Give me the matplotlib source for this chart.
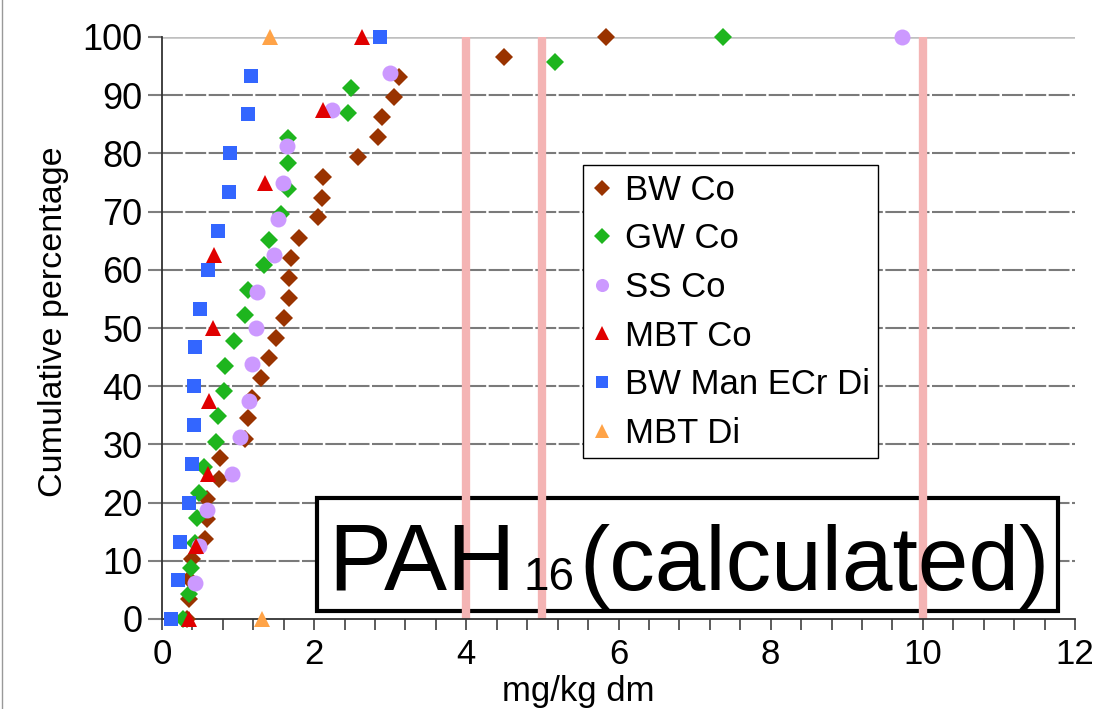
import matplotlib
matplotlib.use('Agg')
import matplotlib.pyplot as plt
from matplotlib.lines import Line2D
from matplotlib.patches import Rectangle
import numpy as np

plt.rcParams['font.family'] = ['Liberation Sans', 'DejaVu Sans']

# ---------------- data ----------------
bw_co_x = [0.33, 0.35, 0.35, 0.40, 0.57, 0.59, 0.59, 0.75, 0.76, 1.09, 1.13, 1.18, 1.30, 1.40, 1.50,
           1.61, 1.67, 1.67, 1.70, 1.80, 2.05, 2.10, 2.11, 2.58, 2.84, 2.89, 3.05, 3.11, 4.49, 5.83]
bw_co_y = [0.0, 3.4, 6.9, 10.3, 13.8, 17.2, 20.7, 24.1, 27.6, 31.0, 34.5, 37.9, 41.4, 44.8, 48.3,
           51.7, 55.2, 58.6, 62.1, 65.5, 69.0, 72.4, 75.9, 79.3, 82.8, 86.2, 89.7, 93.1, 96.6, 100.0]

gw_co_x = [0.27, 0.36, 0.38, 0.43, 0.46, 0.48, 0.55, 0.71, 0.73, 0.81, 0.83, 0.95,
           1.09, 1.13, 1.34, 1.40, 1.56, 1.65, 1.65, 1.66, 2.45, 2.48, 5.17, 7.38]
gw_co_y = [0.0, 4.3, 8.7, 13.0, 17.4, 21.7, 26.1, 30.4, 34.8, 39.1, 43.5, 47.8,
           52.2, 56.5, 60.9, 65.2, 69.6, 73.9, 78.3, 82.6, 87.0, 91.3, 95.7, 100.0]

ss_co_x = [0.43, 0.48, 0.59, 0.92, 1.02, 1.14, 1.18, 1.24, 1.25, 1.47, 1.52, 1.59, 1.64, 2.23, 3.00, 9.72]
ss_co_y = [6.25, 12.5, 18.75, 25.0, 31.25, 37.5, 43.75, 50.0, 56.25, 62.5, 68.75, 75.0, 81.25, 87.5, 93.75, 100.0]

mbt_co_x = [0.35, 0.45, 0.61, 0.62, 0.67, 0.69, 1.35, 2.11, 2.63]
mbt_co_y = [0.0, 12.5, 25.0, 37.5, 50.0, 62.5, 75.0, 87.5, 100.0]

bw_man_x = [0.12, 0.21, 0.24, 0.35, 0.39, 0.42, 0.42, 0.44, 0.50, 0.61, 0.74, 0.88, 0.90, 1.13, 1.17, 2.86]
bw_man_y = [0.0, 6.7, 13.3, 20.0, 26.7, 33.3, 40.0, 46.7, 53.3, 60.0, 66.7, 73.3, 80.0, 86.7, 93.3, 100.0]

mbt_di_x = [1.31, 1.42]
mbt_di_y = [0.0, 100.0]

limit_values = [4, 5, 10]

series_names = ['BW Co', 'GW Co', 'SS Co', 'MBT Co', 'BW Man ECr Di', 'MBT Di']
x_ticks = [0, 2, 4, 6, 8, 10, 12]
y_ticks = [0, 10, 20, 30, 40, 50, 60, 70, 80, 90, 100]

# ---------------- figure ----------------
W, H = 1101, 709
fig = plt.figure(figsize=(W / 100, H / 100), dpi=100)
fig.patch.set_facecolor('white')
L, R, B, T = 162, 1075, 619, 37
ax = fig.add_axes([L / W, 1 - B / H, (R - L) / W, (B - T) / H])
ax.set_xlim(0, 12)
ax.set_ylim(0, 100)
ax.set_facecolor('white')

# gridlines
for yv in y_ticks[1:-1]:
    ax.axhline(yv, color='#7A7A7A', lw=1.5, ls=(0, (10, 1.2)), zorder=1)
ax.axhline(100, color='#BFBFBF', lw=1.8, zorder=1)

# text box (layout in figure pixels)
bx0, by0, bx1, by1 = 317, 498, 1058, 611
box = Rectangle((bx0 / W, 1 - by1 / H), (bx1 - bx0) / W, (by1 - by0) / H,
                transform=fig.transFigure, facecolor='white', edgecolor='black',
                lw=3, zorder=2, clip_on=False)
ax.add_patch(box)

# limit lines
ax.vlines(limit_values, 0, 100, color='#F4B4B4', lw=6.0, zorder=3)

styles = [
    (bw_co_x, bw_co_y, 'D', '#993300', 9.6, 0.85),
    (gw_co_x, gw_co_y, 'D', '#1EB51E', 9.6, 0.85),
    (ss_co_x, ss_co_y, 'o', '#CC99FF', 11.5, 0.82),
    (mbt_co_x, mbt_co_y, '^', '#E00000', 11.5, 0.82),
    (bw_man_x, bw_man_y, 's', '#3366FF', 10.2, 0.8),
    (mbt_di_x, mbt_di_y, '^', '#FFA347', 11.5, 0.82),
]
handles = []
for (xs, ys, mk, col, ms, lscale), name in zip(styles, series_names):
    ax.plot(xs, ys, ls='none', marker=mk, color=col, ms=ms, mew=0, zorder=5, clip_on=False)
    handles.append(Line2D([], [], ls='none', marker=mk, color=col, ms=ms * lscale, mew=0, label=name))

# spines and ticks
for s in ['top', 'right']:
    ax.spines[s].set_visible(False)
for s in ['left', 'bottom']:
    ax.spines[s].set_color('#333333')
    ax.spines[s].set_linewidth(1.3)
    ax.spines[s].set_zorder(4)

ax.set_xticks(x_ticks)
ax.set_xticks(np.arange(0, 12.01, 0.4), minor=True)
ax.set_yticks(y_ticks)
ax.tick_params(axis='x', which='both', direction='out', length=8, width=1.2, color='#404040',
               labelsize=25, pad=6)
ax.tick_params(axis='y', which='major', direction='out', length=10, width=1.5, color='#7F7F7F',
               labelsize=26, pad=4)

ax.set_ylabel('Cumulative percentage', fontsize=24.5)
ax.yaxis.label.set_va('center')
ax.yaxis.set_label_coords(-0.119, 0.51)
ax.set_xlabel('mg/kg dm', fontsize=25)
ax.xaxis.label.set_va('center')
ax.xaxis.set_label_coords(0.456, -0.125)

leg = ax.legend(handles=handles, loc='upper left', bbox_to_anchor=(583 / W, 1 - 165 / H),
                bbox_transform=fig.transFigure, fontsize=25, frameon=True, fancybox=False,
                edgecolor='black', framealpha=1, borderpad=0.25, labelspacing=0.45,
                handlelength=0.6, handletextpad=0.35, borderaxespad=0)
leg.get_frame().set_linewidth(1.0)
leg.set_zorder(6)

# big label in the box
base_y = 1 - 590 / H
t1 = fig.text(328 / W, base_y, 'PAH', fontsize=68, va='baseline', ha='left', zorder=7)
fig.canvas.draw()
r = fig.canvas.get_renderer()
x1 = t1.get_window_extent(r).x1
t2 = fig.text((x1 + 8) / W, base_y, '16', fontsize=33, va='baseline', ha='left', zorder=7)
fig.canvas.draw()
x2 = t2.get_window_extent(r).x1
t3 = fig.text((x2 + 5) / W, base_y, '(calculated)', fontsize=65.5, va='baseline', ha='left', zorder=7)

# chart border on the left edge
fig.add_artist(Line2D([1.5 / W, 1.5 / W], [0, 1], transform=fig.transFigure, color='#999999', lw=1))

fig.savefig('out.png', dpi=100, facecolor='white')
